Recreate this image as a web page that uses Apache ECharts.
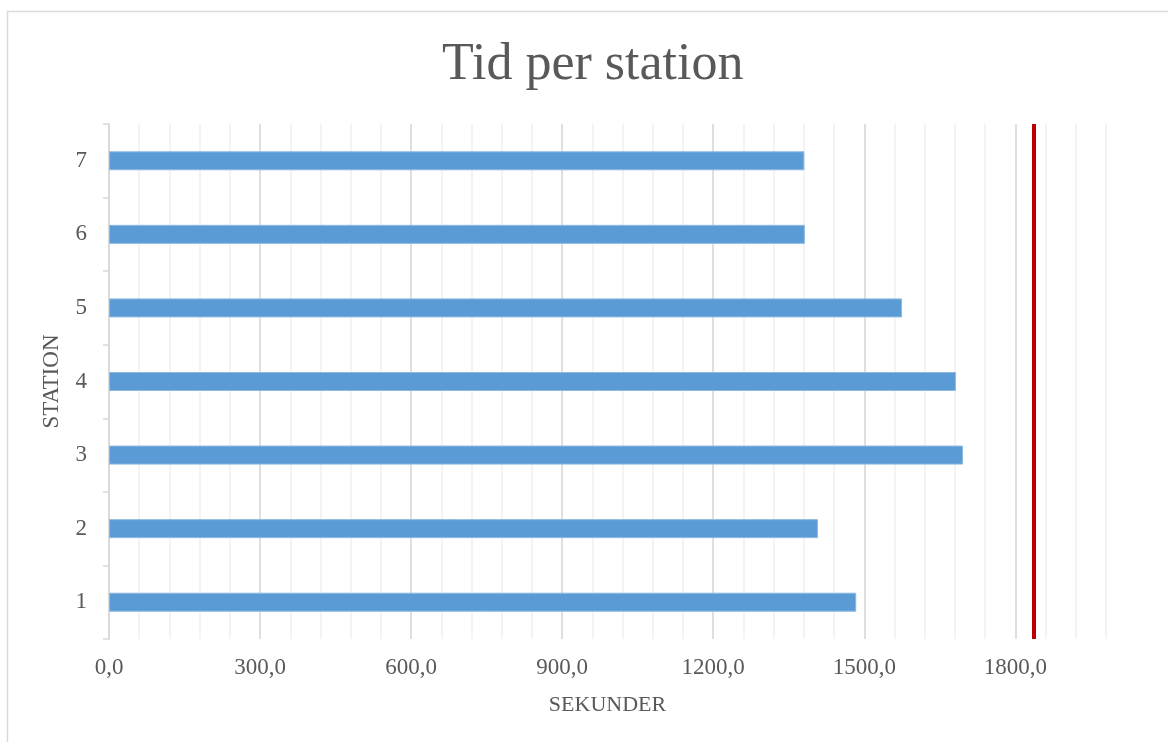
<!DOCTYPE html>
<html>
<head>
<meta charset="utf-8">
<title>Tid per station</title>
<script src="https://cdn.jsdelivr.net/npm/echarts@6/dist/echarts.min.js"></script>
<style>
  html, body { margin: 0; padding: 0; background: #fff; }
  #chart { width: 1168px; height: 742px; }
</style>
</head>
<body>
<div id="chart"></div>
<script>
// Chart data
const stations = ['1', '2', '3', '4', '5', '6', '7'];
const seconds = [1484, 1408, 1696, 1682, 1575, 1382, 1381];
const limitLine = [1836];
const axisRange = [0, 1980];

const FONT = '"Liberation Serif", "Times New Roman", serif';
const TEXT = '#595959';

const chart = echarts.init(document.getElementById('chart'));

const fmt = v => v.toFixed(1).replace('.', ',');

const option = {
  animation: false,
  backgroundColor: '#fff',
  textStyle: { fontFamily: FONT },
  title: {
    text: 'Tid per station',
    left: 437,
    top: 34,
    textStyle: { fontFamily: FONT, fontSize: 52, fontWeight: 'normal', color: TEXT }
  },
  // outer chart border, cut off at right / bottom like the source image
  graphic: [{
    type: 'rect',
    shape: { x: 7.5, y: 11.5, width: 1300, height: 900 },
    style: { fill: 'none', stroke: '#d9d9d9', lineWidth: 1.5 },
    silent: true,
    z: -10
  }],
  grid: {
    left: 109,
    right: 62,
    top: 124,
    bottom: 103,
    containLabel: false
  },
  xAxis: [
    {
      type: 'value',
      min: axisRange[0],
      max: axisRange[1],
      interval: 300,
      name: 'SEKUNDER',
      nameLocation: 'middle',
      nameGap: 55,
      nameTextStyle: { fontFamily: FONT, fontSize: 22, color: TEXT },
      axisLine: { show: false },
      axisTick: { show: false },
      axisLabel: {
        fontFamily: FONT,
        fontSize: 23,
        color: TEXT,
        margin: 17,
        showMaxLabel: false,
        formatter: fmt
      },
      splitLine: {
        show: true,
        showMaxLine: false,
        lineStyle: { color: '#d9d9d9', width: 1.5 }
      },
      z: 2
    },
    {
      // minor grid every 60 s
      type: 'value',
      min: axisRange[0],
      max: axisRange[1],
      interval: 60,
      position: 'bottom',
      axisLine: { show: false },
      axisTick: { show: false },
      axisLabel: { show: false },
      splitLine: {
        show: true,
        lineStyle: { color: '#efefef', width: 1.5 }
      },
      z: 1
    }
  ],
  yAxis: {
    type: 'category',
    data: stations,
    name: 'STATION',
    nameLocation: 'middle',
    nameGap: 46,
    nameRotate: 90,
    nameTextStyle: { fontFamily: FONT, fontSize: 23, color: TEXT },
    axisLine: { show: true, lineStyle: { color: '#d9d9d9', width: 1.5 } },
    axisTick: { show: true, length: 6, lineStyle: { color: '#d9d9d9', width: 1.5 } },
    axisLabel: { fontFamily: FONT, fontSize: 23, color: TEXT, margin: 22 },
    splitLine: { show: false },
    z: 3
  },
  series: [{
    type: 'bar',
    xAxisIndex: 0,
    data: seconds,
    barWidth: 19,
    itemStyle: {
      color: '#5b9bd5',
      borderColor: '#8db9e3',
      borderWidth: 1
    },
    z: 4,
    markLine: {
      silent: true,
      symbol: 'none',
      label: { show: false },
      lineStyle: { color: '#c00000', width: 4, type: 'solid' },
      data: limitLine.map(v => ({ xAxis: v }))
    }
  }]
};

chart.setOption(option);

window.addEventListener('resize', () => chart.resize());
</script>
</body>
</html>
